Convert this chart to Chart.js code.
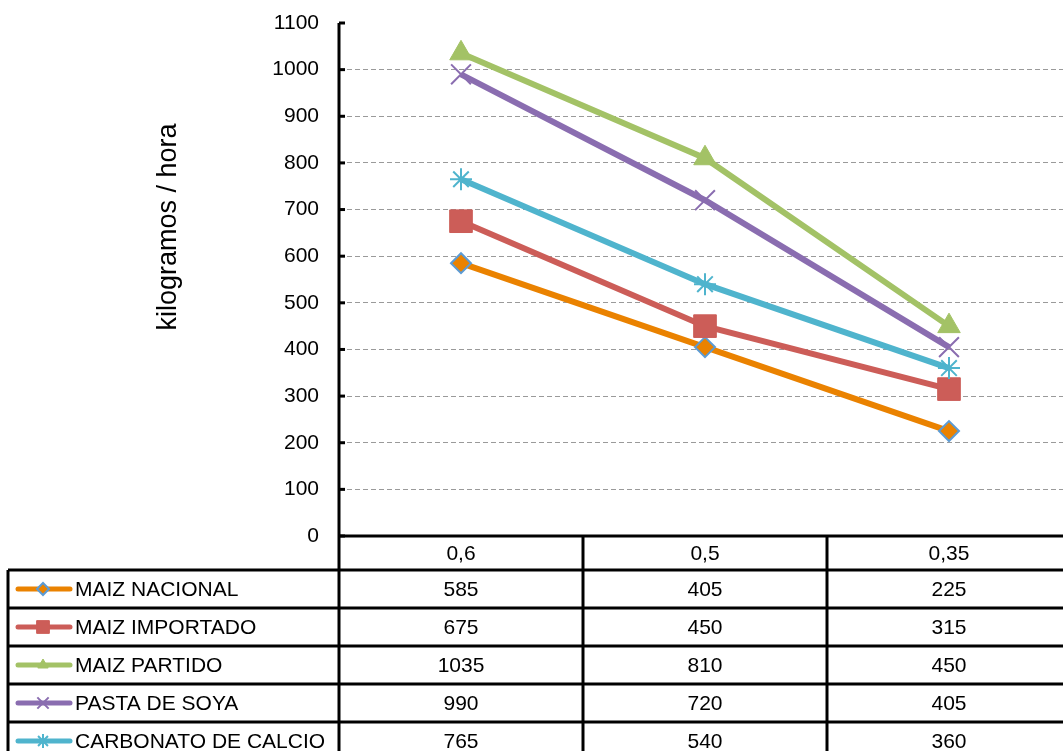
<!DOCTYPE html>
<html>
<head>
<meta charset="utf-8">
<script src="https://cdn.jsdelivr.net/npm/chart.js@4.4.1/dist/chart.umd.min.js"></script>
<style>
html, body { margin: 0; padding: 0; overflow: hidden; background: #fff; }
#wrap { width: 1100px; height: 770px; }
</style>
</head>
<body>
<div id="wrap"><canvas id="chart" width="1100" height="770"></canvas></div>
<script>
const categories = ['0,6', '0,5', '0,35'];
const seriesNames = ['MAIZ NACIONAL', 'MAIZ IMPORTADO', 'MAIZ PARTIDO', 'PASTA DE SOYA', 'CARBONATO DE CALCIO'];
const maizNacional = [585, 405, 225];
const maizImportado = [675, 450, 315];
const maizPartido = [1035, 810, 450];
const pastaSoya = [990, 720, 405];
const carbonatoCalcio = [765, 540, 360];
const yTitle = 'kilogramos / hora';

const FONT_FAMILY = '"Liberation Sans", Arial, sans-serif';

// look of each series: line colour, marker style
const styles = [
    { color: '#EA8200', pointStyle: 'rectRot', radius: 10, fill: '#EA8200', border: '#5B9BD5', bw: 2, legendRadius: 6 },
    { color: '#CC5D58', pointStyle: 'rect', radius: 16, fill: '#CC5D58', border: '#CC5D58', bw: 1, legendRadius: 9 },
    { color: '#A3C266', pointStyle: 'triangle', radius: 13, fill: '#A3C266', border: '#A3C266', bw: 1, legendRadius: 6 },
    { color: '#8A6DB0', pointStyle: 'crossRot', radius: 14, fill: '#8A6DB0', border: '#8A6DB0', bw: 2, legendRadius: 8 },
    { color: '#4FB4CD', pointStyle: 'star', radius: 11, fill: '#4FB4CD', border: '#4FB4CD', bw: 2, legendRadius: 7 }
];
const seriesValues = [maizNacional, maizImportado, maizPartido, pastaSoya, carbonatoCalcio];

const datasets = seriesNames.map((name, i) => ({
    label: name,
    data: seriesValues[i],
    borderColor: styles[i].color,
    backgroundColor: styles[i].fill,
    borderWidth: 6,
    tension: 0,
    fill: false,
    pointStyle: styles[i].pointStyle,
    pointRadius: styles[i].radius,
    pointHoverRadius: styles[i].radius,
    pointBackgroundColor: styles[i].fill,
    pointBorderColor: styles[i].border,
    pointBorderWidth: styles[i].bw,
    order: seriesNames.length - 1 - i
}));

function line(ctx, x1, y1, x2, y2) {
    ctx.beginPath();
    ctx.moveTo(x1, y1);
    ctx.lineTo(x2, y2);
    ctx.stroke();
}

// draws the y title, inner tick marks and the data table under the plot
const dataTable = {
    id: 'dataTable',
    afterDraw(chart) {
        const { ctx, chartArea: area, scales: { x, y } } = chart;
        const W = chart.width, H = chart.height;
        const colW = (x.right - x.left) / categories.length;
        const headTop = area.bottom, headH = 34, rowH = 38;
        const tableLeft = 8;

        ctx.save();
        ctx.strokeStyle = '#000';
        ctx.lineWidth = 3;

        // axis line + tick marks
        line(ctx, area.left, area.top, area.left, H);
        y.ticks.forEach(t => {
            const py = y.getPixelForValue(t.value);
            line(ctx, area.left, py, area.left + 6, py);
        });

        // table grid
        line(ctx, area.left, headTop, W, headTop);
        for (let i = 0; i <= seriesNames.length; i++) {
            const yy = headTop + headH + i * rowH;
            line(ctx, tableLeft, yy, W, yy);
        }
        line(ctx, tableLeft, headTop + headH, tableLeft, H);
        for (let i = 1; i <= categories.length; i++) {
            const xx = x.left + i * colW;
            line(ctx, xx, headTop, xx, H);
        }

        ctx.fillStyle = '#000';
        ctx.font = '21px ' + FONT_FAMILY;
        ctx.textBaseline = 'middle';
        ctx.textAlign = 'center';
        categories.forEach((c, j) => {
            ctx.fillText(c, x.getPixelForValue(j), headTop + headH / 2 + 1);
        });

        seriesNames.forEach((name, i) => {
            const cy = headTop + headH + i * rowH + rowH / 2 + 1;
            ctx.fillStyle = '#000';
            ctx.textAlign = 'center';
            seriesValues[i].forEach((v, j) => {
                ctx.fillText(String(v), x.getPixelForValue(j), cy);
            });
            // legend key
            const s = styles[i];
            ctx.strokeStyle = s.color;
            ctx.lineWidth = 5;
            ctx.lineCap = 'round';
            line(ctx, 18, cy - 1, 70, cy - 1);
            ctx.lineCap = 'butt';
            ctx.fillStyle = s.fill;
            ctx.strokeStyle = s.border;
            ctx.lineWidth = s.bw;
            Chart.helpers.drawPoint(ctx, { pointStyle: s.pointStyle, radius: s.legendRadius, rotation: 0, borderWidth: s.bw }, 43, cy - 1);
            ctx.fillStyle = '#000';
            ctx.textAlign = 'left';
            ctx.fillText(name, 75, cy);
        });

        // y axis title
        ctx.translate(169, 227);
        ctx.rotate(-Math.PI / 2);
        ctx.font = '27px ' + FONT_FAMILY;
        ctx.textAlign = 'center';
        ctx.fillStyle = '#000';
        ctx.fillText(yTitle, 0, 0);
        ctx.restore();
    }
};

new Chart(document.getElementById('chart').getContext('2d'), {
    type: 'line',
    data: { labels: categories, datasets: datasets },
    options: {
        responsive: false,
        animation: false,
        layout: { padding: { left: 0, top: 23, right: 29, bottom: 234 } },
        scales: {
            x: {
                display: false,
                offset: true
            },
            y: {
                min: 0,
                max: 1100,
                afterFit(scale) {
                    scale.width = 339;
                    scale.paddingTop = 0;
                    scale.paddingBottom = 0;
                },
                ticks: {
                    stepSize: 100,
                    padding: 20,
                    color: '#000',
                    font: { family: FONT_FAMILY, size: 21 },
                    callback: v => String(v)
                },
                grid: {
                    drawTicks: false,
                    lineWidth: 1,
                    color: c => (c.tick && (c.tick.value === 0 || c.tick.value === 1100)) ? 'rgba(0,0,0,0)' : '#9A9A9A'
                },
                border: { display: false, dash: [5, 3] }
            }
        },
        plugins: {
            legend: { display: false },
            tooltip: { enabled: false }
        }
    },
    plugins: [dataTable]
});
</script>
</body>
</html>
